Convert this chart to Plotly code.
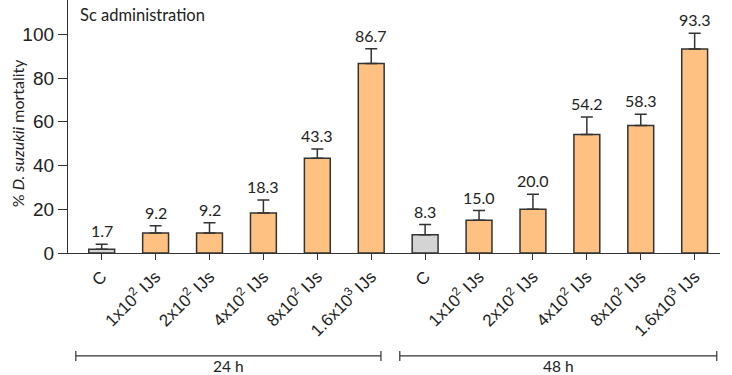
import plotly.graph_objects as go

categories = ["C", "1x10<sup>2</sup> IJs", "2x10<sup>2</sup> IJs", "4x10<sup>2</sup> IJs",
              "8x10<sup>2</sup> IJs", "1.6x10<sup>3</sup> IJs",
              "C", "1x10<sup>2</sup> IJs", "2x10<sup>2</sup> IJs", "4x10<sup>2</sup> IJs",
              "8x10<sup>2</sup> IJs", "1.6x10<sup>3</sup> IJs"]
mortality = [1.7, 9.2, 9.2, 18.3, 43.3, 86.7, 8.3, 15.0, 20.0, 54.2, 58.3, 93.3]
error_up = [2.3, 3.3, 4.6, 5.9, 4.3, 6.7, 4.7, 4.4, 6.9, 8.0, 5.1, 7.2]
groups = ["24 h", "48 h"]
is_control = [True, False, False, False, False, False, True, False, False, False, False, False]

ORANGE = "#FFC182"
GREY = "#D4D4D4"
EDGE = "#333333"
LABEL_FONT = "Lato, 'Open Sans', sans-serif"
AXIS_FONT = "Arial, 'Liberation Sans', sans-serif"

xpos = list(range(len(mortality)))
colors = [GREY if c else ORANGE for c in is_control]

fig = go.Figure()
fig.add_trace(go.Bar(
    x=xpos, y=mortality, width=0.48,
    marker=dict(color=colors, line=dict(color=EDGE, width=1.5)),
    error_y=dict(type="data", symmetric=False, array=error_up,
                 arrayminus=[0] * len(error_up), color=EDGE, thickness=1.5, width=6),
    showlegend=False, hoverinfo="skip",
))

# value labels above error bars
for x, v, e in zip(xpos, mortality, error_up):
    fig.add_annotation(x=x, y=v + e, text=f"{v:.1f}", showarrow=False,
                       yanchor="bottom", yshift=2, xref="x", yref="y",
                       font=dict(family=LABEL_FONT, size=16, color="#222222"))

# group brackets
brackets = [(-0.48, 5.18), (5.53, 11.41)]
ybr = -0.407
cap = 0.02
for (x0, x1), g in zip(brackets, groups):
    fig.add_shape(type="line", xref="x", yref="paper", x0=x0, x1=x1, y0=ybr, y1=ybr,
                  line=dict(color=EDGE, width=1.2))
    for xx in (x0, x1):
        fig.add_shape(type="line", xref="x", yref="paper", x0=xx, x1=xx,
                      y0=ybr - cap, y1=ybr + cap, line=dict(color=EDGE, width=1.2))
    fig.add_annotation(x=(x0 + x1) / 2, y=-0.446, xref="x", yref="paper", text=g,
                       showarrow=False, yanchor="middle",
                       font=dict(family=LABEL_FONT, size=15.5, color="#222222"))

fig.add_annotation(x=0.016, y=0.94, xref="paper", yref="paper", text="Sc administration",
                   showarrow=False, xanchor="left", yanchor="middle",
                   font=dict(family=LABEL_FONT, size=16.5, color="#222222"))

# y-axis title as rotated annotation
fig.add_annotation(x=-0.078, y=0.474, xref="paper", yref="paper",
                   text="% <i>D. suzukii</i> mortality", textangle=-90,
                   showarrow=False, xanchor="center", yanchor="middle",
                   font=dict(family=LABEL_FONT, size=16, color="#222222"))

fig.update_layout(
    width=732, height=375,
    margin=dict(l=68, r=12, t=0, b=122),
    paper_bgcolor="white", plot_bgcolor="white",
    bargap=0.5,
)
fig.update_xaxes(
    range=[-0.625, 11.47], tickmode="array", tickvals=xpos, ticktext=categories,
    tickangle=-45, ticks="outside", ticklen=6, tickwidth=1.3, tickcolor=EDGE,
    showline=True, linecolor=EDGE, linewidth=1.3, showgrid=False, zeroline=False,
    tickfont=dict(family=AXIS_FONT, size=17, color="#222222"),
)
fig.update_yaxes(
    range=[0, 115.7], tickvals=[0, 20, 40, 60, 80, 100],
    ticks="outside", ticklen=9, tickwidth=1.3, tickcolor=EDGE,
    showline=True, linecolor=EDGE, linewidth=1.3, showgrid=False, zeroline=False,
    tickfont=dict(family=AXIS_FONT, size=19, color="#222222"),
)

fig.write_html("out.html", config={"displayModeBar": False},
               post_script="document.body.style.margin='0';")
